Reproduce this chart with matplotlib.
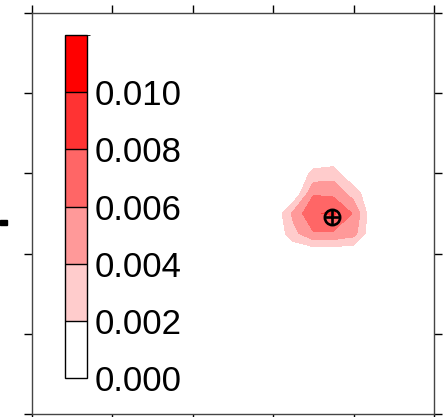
import numpy as np
import matplotlib
matplotlib.use("Agg")
import matplotlib.pyplot as plt
from matplotlib.colors import ListedColormap, BoundaryNorm
from matplotlib.patches import Rectangle

plt.rcParams.update({
    "font.family": ["Liberation Sans", "DejaVu Sans"],
    "axes.linewidth": 1.0,
})

# ── Data ───────────────────────────────────────────────────────
grid_x = [2.75, 3.0, 3.25, 3.5, 3.75, 4.0, 4.25, 4.5]
grid_y = [1.75, 2.0, 2.25, 2.5, 2.75, 3.0, 3.25]
density = [
    [0, 0, 0,      0,      0,      0,      0, 0],
    [0, 0, 0,      0,      0,      0,      0, 0],
    [0, 0, 0.0033, 0.0058, 0.0057, 0.0048, 0, 0],
    [0, 0, 0.0045, 0.0078, 0.0083, 0.0058, 0, 0],
    [0, 0, 0,      0.0058, 0.0055, 0.0031, 0, 0],
    [0, 0, 0,      0.0026, 0.0030, 0,      0, 0],
    [0, 0, 0,      0,      0,      0,      0, 0],
]
levels = [0.000, 0.002, 0.004, 0.006, 0.008, 0.010, 0.012]
level_labels = ["0.000", "0.002", "0.004", "0.006", "0.008", "0.010"]
level_colors = ["#FFFFFF", "#FFCCCC", "#FF9999", "#FF6666", "#FF3333", "#FF0000"]
point_x = [3.73]
point_y = [2.46]

W, H = 444, 417
fig = plt.figure(figsize=(W / 100, H / 100), dpi=100)
ax = fig.add_axes([32 / W, 3 / H, 402 / W, 401 / H])

cmap = ListedColormap(level_colors)
norm = BoundaryNorm(levels, cmap.N)
X, Y = np.meshgrid(grid_x, grid_y)
cf = ax.contourf(X, Y, np.array(density), levels=levels, cmap=cmap, norm=norm)

ax.plot(point_x, point_y, "o", ms=11, mfc="none", mec="black", mew=1.9, zorder=5)
ax.plot(point_x, point_y, "+", ms=11, mec="black", mew=1.9, zorder=5)

ax.set_xlim(0, 5)
ax.set_ylim(0, 5)
ax.set_xticks(np.arange(0, 6))
ax.set_yticks(np.arange(0, 6))
ax.tick_params(direction="out", length=5.8, width=1.0, color="black",
               top=True, right=True, labelbottom=False, labelleft=False)
for sp in ax.spines.values():
    sp.set_color("#444444")

# colorbar inside the frame
cax = fig.add_axes([65 / W, (H - 378) / H, 22 / W, 343 / H])
cb = fig.colorbar(cf, cax=cax, drawedges=True)
cb.set_ticks(levels[:-1])
cb.set_ticklabels(level_labels)
cb.ax.tick_params(length=0, labelsize=25, pad=5.5)
cb.outline.set_linewidth(1.0)
cb.outline.set_edgecolor("black")
cb.dividers.set_color("black")
cb.dividers.set_linewidth(1.0)

# clipped mark at the left edge
fig.patches.append(Rectangle((0, (H - 225) / H), 7 / W, 5 / H,
                             transform=fig.transFigure, color="black"))

fig.savefig("out.png", dpi=100)
